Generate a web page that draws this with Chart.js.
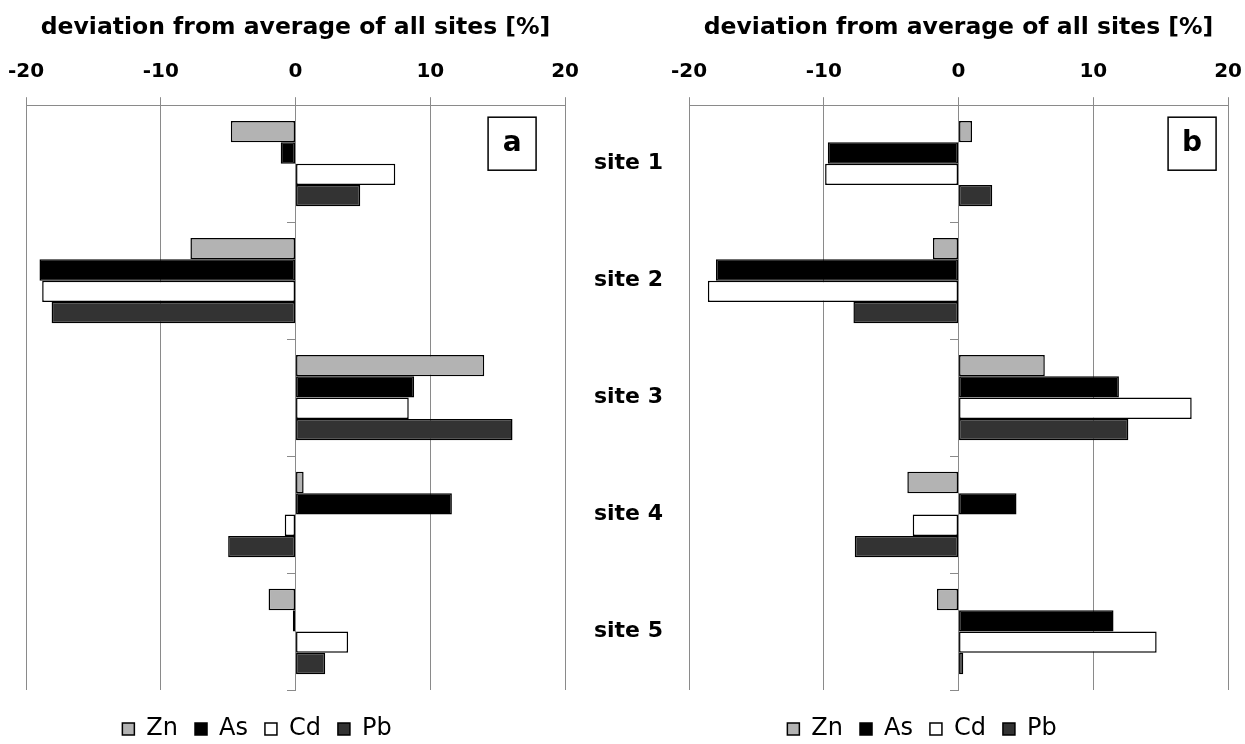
<!DOCTYPE html>
<html><head><meta charset="utf-8">
<script src="https://cdn.jsdelivr.net/npm/chart.js@4/dist/chart.umd.min.js"></script>
<style>
html,body{margin:0;padding:0;background:#fff;overflow:hidden;width:1245px;height:744px;position:relative}
canvas{position:absolute;top:0}
#ca{left:-78px}
#cb{left:585px}
</style></head><body>
<canvas id="ca" width="670" height="751"></canvas>
<canvas id="cb" width="670" height="751"></canvas>
<script>
// ---- data ----
const sites = ['site 1', 'site 2', 'site 3', 'site 4', 'site 5'];
const elements = ['Zn', 'As', 'Cd', 'Pb'];
const xTickValues = [-20, -10, 0, 10, 20];
const axisTitle = 'deviation from average of all sites [%]';

// panel a
const znA = [-4.8, -7.8, 14.0, 0.6, -2.0];
const asA = [-1.1, -19.0, 8.8, 11.6, -0.2];
const cdA = [7.4, -18.8, 8.4, -0.8, 3.9];
const pbA = [4.8, -18.1, 16.1, -5.0, 2.2];

// panel b
const znB = [1.0, -1.9, 6.4, -3.8, -1.6];
const asB = [-9.7, -18.0, 11.9, 4.3, 11.5];
const cdB = [-9.9, -18.6, 17.3, -3.4, 14.7];
const pbB = [2.5, -7.8, 12.6, -7.7, 0.35];

// ---- styles ----
const fills = ['#b3b3b3', '#000000', '#ffffff', '#333333'];
const gridGray = '#8a8a8a';
Chart.defaults.font.family = "'DejaVu Sans', sans-serif";
Chart.defaults.color = '#000';

function makeDatasets(series) {
  return elements.map((el, i) => ({
    label: el,
    data: series[i],
    backgroundColor: fills[i],
    borderColor: '#000',
    borderWidth: 1.5,
    borderSkipped: false,
    categoryPercentage: 0.73,
    barPercentage: 1.0
  }));
}

const panelTag = {
  id: 'panelTag',
  afterDraw(chart, args, opts) {
    const {ctx, chartArea} = chart;
    const w = 48, h = 53;
    const x = chartArea.right - opts.right - w;
    const y = chartArea.top + 12;
    ctx.save();
    ctx.fillStyle = '#fff';
    ctx.fillRect(x, y, w, h);
    ctx.lineWidth = 1.5;
    ctx.strokeStyle = '#000';
    ctx.strokeRect(x, y, w, h);
    ctx.fillStyle = '#000';
    ctx.font = "bold 28px 'DejaVu Sans'";
    ctx.textAlign = 'center';
    ctx.textBaseline = 'middle';
    ctx.fillText(opts.text, x + w / 2, y + h / 2);
    ctx.restore();
  }
};

function xAxis() {
  return {
    type: 'linear', position: 'top', min: -20, max: 20,
    afterBuildTicks: s => { s.ticks = xTickValues.map(v => ({value: v})); },
    ticks: {font: {size: 20, weight: 'bold'}, color: '#000', padding: 13, maxRotation: 0, autoSkip: false},
    grid: {color: gridGray, lineWidth: 1, tickLength: 8, drawTicks: true},
    border: {color: gridGray, width: 1},
    title: {display: true, text: axisTitle, font: {size: 23.5, weight: 'bold'}, color: '#000', padding: {top: 14, bottom: 5}}
  };
}
function bottomSpacer() {
  return {
    type: 'linear', position: 'bottom', min: 0, max: 1,
    ticks: {display: false}, grid: {display: false, drawTicks: false}, border: {display: false},
    afterFit: s => { s.height = 10; }
  };
}
function centerAxis() {
  return {
    type: 'category', position: {x: 0}, offset: true,
    ticks: {display: false},
    grid: {offset: true, drawOnChartArea: false, drawTicks: true, tickLength: 8, color: gridGray},
    border: {color: gridGray, width: 1}
  };
}
const legendOpts = {
  position: 'bottom', align: 'center',
  labels: {font: {size: 24}, color: '#000', boxWidth: 12, boxHeight: 12, padding: 17}
};

new Chart(document.getElementById('ca'), {
  type: 'bar',
  data: {labels: sites, datasets: makeDatasets([znA, asA, cdA, pbA])},
  options: {
    indexAxis: 'y', responsive: false, animation: false, devicePixelRatio: 1,
    layout: {padding: 0},
    scales: {
      x: xAxis(),
      xb: bottomSpacer(),
      y: centerAxis(),
      yL: {
        type: 'category', position: 'left',
        ticks: {display: false}, grid: {display: false, drawTicks: false}, border: {display: false},
        afterFit: s => { s.width = 104; }
      }
    },
    plugins: {legend: legendOpts, tooltip: {enabled: false}, panelTag: {text: 'a', right: 29}}
  },
  plugins: [panelTag]
});

new Chart(document.getElementById('cb'), {
  type: 'bar',
  data: {labels: sites, datasets: makeDatasets([znB, asB, cdB, pbB])},
  options: {
    indexAxis: 'y', responsive: false, animation: false, devicePixelRatio: 1,
    layout: {padding: {left: 4, right: 0, top: 0, bottom: 0}},
    scales: {
      x: xAxis(),
      xb: bottomSpacer(),
      y: {
        type: 'category', position: 'left',
        ticks: {font: {size: 22, weight: 'bold'}, color: '#000', padding: 26},
        grid: {display: false, drawTicks: false}, border: {display: false},
        afterFit: s => { s.width = 100; }
      },
      y0: centerAxis()
    },
    plugins: {legend: legendOpts, tooltip: {enabled: false}, panelTag: {text: 'b', right: 12}}
  },
  plugins: [panelTag]
});
</script>
</body></html>
